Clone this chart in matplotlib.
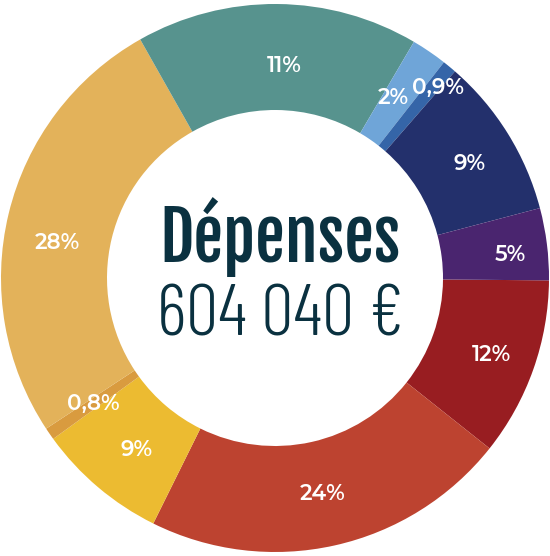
import numpy as np
import matplotlib.pyplot as plt

# slices, clockwise from 3 o'clock (sizes read from the drawn wedges, in degrees)
labels = ["12%", "24%", "9%", "0,8%", "28%", "11%", "2%", "0,9%", "9%", "5%"]
sizes = [38.0, 78.0, 27.7, 2.6, 94.0, 60.0, 7.6, 3.0, 34.2, 15.3]
colors = ["#981d21", "#bd4330", "#ecbb31", "#d99b3f", "#e3b25a",
          "#57938e", "#6fa5d8", "#3565a8", "#23306c", "#4a256f"]

title = "Dépenses"
total = "604 040 €"

fig = plt.figure(figsize=(5.5, 5.56), dpi=100)
ax = fig.add_axes([0, 0, 1, 1])
cx, cy, R, r_in = 275, 278, 274, 168

wedges, _ = ax.pie(sizes, colors=colors, startangle=-0.5, counterclock=False,
                   center=(cx, cy), radius=R,
                   wedgeprops=dict(width=R - r_in, linewidth=0))

# small nudges (degrees, radius) so labels sit where the original has them
nudge = [(0, 9), (0, 0), (1.5, 0), (0, 0), (4.5, -1),
         (-2, -9), (1, -6), (-1, 29), (-1.5, 5), (-1.5, 15)]
for w, lab, (da, dr) in zip(wedges, labels, nudge):
    a = np.deg2rad((w.theta1 + w.theta2) / 2 + da)
    rr = (R + r_in) / 2 + dr
    ax.text(cx + rr * np.cos(a), cy + rr * np.sin(a), lab, color="white",
            fontsize=15.5, fontweight="semibold",
            family=["Montserrat Alternates", "DejaVu Sans"],
            ha="center", va="center")

ax.text(280, 294, title, color="#0a3140", fontsize=48,
        family=["Fjalla One", "DejaVu Sans"], ha="center", va="baseline")
ax.text(280, 221, total, color="#0a3140", fontsize=52, fontweight=300,
        family=["Barlow Condensed", "DejaVu Sans"], ha="center", va="baseline")

ax.set_xlim(0, 550)
ax.set_ylim(0, 556)
ax.set_aspect("equal")
ax.axis("off")

fig.savefig("out.png", dpi=100, facecolor="white")
